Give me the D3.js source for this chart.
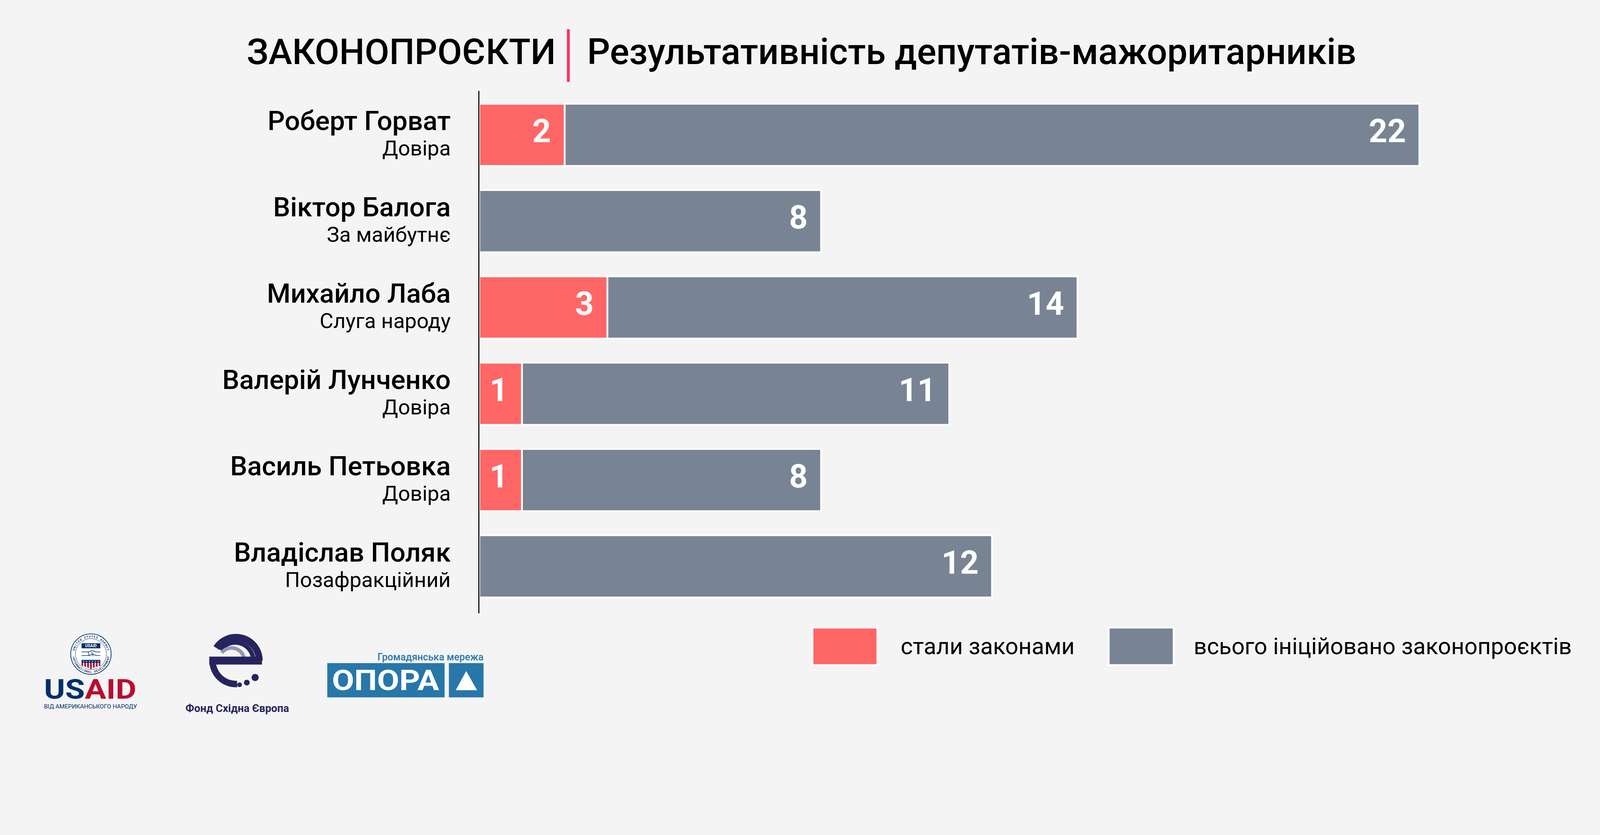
<!DOCTYPE html>
<html lang="uk">
<head>
  <meta charset="UTF-8">
  <title>Законопроєкти — результативність депутатів-мажоритарників</title>
  <script src="https://d3js.org/d3.v7.min.js"></script>
  <style>
    html, body { margin: 0; height: 100%; overflow: hidden; background: #f4f4f4; font-family: Roboto, "Noto Sans", sans-serif; }
    svg { display: block; width: 100vw; height: 100vh; }
  </style>
</head>
<body>
  <svg id="chart" viewBox="0 0 4434 2138" preserveAspectRatio="xMidYMin meet"></svg>

  <script>
    // data
    const names = ["Роберт Горват", "Віктор Балога", "Михайло Лаба", "Валерій Лунченко", "Василь Петьовка", "Владіслав Поляк"];
    const parties = ["Довіра", "За майбутнє", "Слуга народу", "Довіра", "Довіра", "Позафракційний"];
    const laws = [2, 0, 3, 1, 1, 0];        // стали законами
    const totals = [22, 8, 14, 11, 8, 12];   // всього ініційовано
    const legendLabels = ["стали законами", "всього ініційовано законопроєктів"];

    const RED = "#ff6666";
    const GREY = "#788493";

    const rows = names.map((n, i) => ({ name: n, party: parties[i], laws: laws[i], total: totals[i] }));

    const svg = d3.select("#chart");
    svg.append("rect").attr("width", 4434).attr("height", 2138).attr("fill", "#f4f4f4");

    // Title
    const title = svg.append("g").attr("class", "title");
    title.append("text")
      .attr("x", 684).attr("y", 178)
      .attr("font-size", 99).attr("font-weight", 500).attr("fill", "#000")
      .text("ЗАКОНОПРОЄКТИ");
    title.append("rect")
      .attr("x", 1571).attr("y", 81).attr("width", 8).attr("height", 146)
      .attr("fill", "#ff3068");
    title.append("text")
      .attr("x", 1627).attr("y", 178)
      .attr("font-size", 100).attr("font-weight", 500).attr("fill", "#000")
      .text("Результативність депутатів-мажоритарників");

    // Scales
    const x0 = 1328;
    const x = d3.scaleLinear().domain([0, 22]).range([x0, x0 + 2605.5]);
    const y = d3.scaleBand().domain(names).range([220.8, 1722.8]).padding(0.279);
    const bw = y.bandwidth();

    // Bars: full total first, the part that became law on top
    const bars = svg.append("g").attr("class", "bars");
    bars.selectAll("rect.total")
      .data(rows)
      .enter().append("rect")
      .attr("class", "total")
      .attr("x", x(0))
      .attr("y", d => y(d.name))
      .attr("width", d => x(d.total) - x(0))
      .attr("height", bw)
      .attr("fill", GREY)
      .attr("stroke", "#fff").attr("stroke-width", 5);

    bars.selectAll("rect.laws")
      .data(rows.filter(d => d.laws > 0))
      .enter().append("rect")
      .attr("class", "laws")
      .attr("x", x(0))
      .attr("y", d => y(d.name))
      .attr("width", d => x(d.laws) - x(0))
      .attr("height", bw)
      .attr("fill", RED)
      .attr("stroke", "#fff").attr("stroke-width", 5);

    // Value labels
    const vals = svg.append("g").attr("class", "values")
      .attr("font-size", 90).attr("font-weight", 700).attr("fill", "#fff").attr("text-anchor", "end");
    vals.selectAll("text.t")
      .data(rows)
      .enter().append("text")
      .attr("class", "t")
      .attr("x", d => x(d.total) - 37)
      .attr("y", d => y(d.name) + bw / 2 + 20)
      .text(d => d.total);
    vals.selectAll("text.l")
      .data(rows.filter(d => d.laws > 0))
      .enter().append("text")
      .attr("class", "l")
      .attr("x", d => x(d.laws) - 38)
      .attr("y", d => y(d.name) + bw / 2 + 20)
      .text(d => d.laws);

    // Category labels
    const labels = svg.append("g").attr("class", "labels").attr("text-anchor", "end").attr("fill", "#000");
    labels.selectAll("text.name")
      .data(rows)
      .enter().append("text")
      .attr("class", "name")
      .attr("x", 1249)
      .attr("y", d => y(d.name) + bw / 2 - 13.5)
      .attr("font-size", 75).attr("font-weight", 500)
      .text(d => d.name);
    labels.selectAll("text.party")
      .data(rows)
      .enter().append("text")
      .attr("class", "party")
      .attr("x", 1249)
      .attr("y", d => y(d.name) + bw / 2 + 57.5)
      .attr("font-size", 58.5).attr("font-weight", 400)
      .text(d => d.party);

    // Axis line
    svg.append("line")
      .attr("x1", 1327).attr("x2", 1327)
      .attr("y1", 252).attr("y2", 1700)
      .attr("stroke", "#000").attr("stroke-width", 3);

    // Legend
    const legend = svg.append("g").attr("class", "legend");
    const legendItems = [
      { label: legendLabels[0], color: RED, rx: 2251.5, tx: 2496 },
      { label: legendLabels[1], color: GREY, rx: 3072.5, tx: 3308 }
    ];
    legendItems.forEach(it => {
      legend.append("rect")
        .attr("x", it.rx).attr("y", 1739.5).attr("width", 180).attr("height", 104)
        .attr("fill", it.color).attr("stroke", "#fff").attr("stroke-width", 5);
      legend.append("text")
        .attr("x", it.tx).attr("y", 1813)
        .attr("font-size", 64).attr("fill", "#000")
        .text(it.label);
    });

    // ---- Logos ----
    const NAVY = "#002f6c", USRED = "#ba0c2f";

    // USAID seal
    const seal = svg.append("g").attr("transform", "translate(252,1813)");
    seal.append("circle").attr("r", 56).attr("fill", "#fff").attr("stroke", NAVY).attr("stroke-width", 2);
    seal.append("circle").attr("r", 43).attr("fill", "none").attr("stroke", NAVY).attr("stroke-width", 1);

    // ring lettering, one glyph at a time
    function ringText(str, r, span, bottom) {
      const chars = str.split("");
      const n = chars.length;
      chars.forEach((c, i) => {
        const a = (-span / 2 + i * span / (n - 1)) * Math.PI / 180;
        let px, py, rot;
        if (!bottom) { px = r * Math.sin(a); py = -r * Math.cos(a); rot = a; }
        else { px = -r * Math.sin(-a); py = r * Math.cos(a); rot = -a; }
        seal.append("text")
          .attr("transform", `translate(${px.toFixed(2)},${py.toFixed(2)}) rotate(${(rot * 180 / Math.PI).toFixed(1)})`)
          .attr("text-anchor", "middle").attr("font-size", 8).attr("font-weight", 700).attr("fill", NAVY)
          .text(c);
      });
    }
    ringText("UNITED STATES AGENCY", 46, 150, false);
    ringText("INTERNATIONAL DEVELOPMENT", 52, 160, true);

    seal.append("rect").attr("x", -26).attr("y", -30).attr("width", 52).attr("height", 14).attr("fill", NAVY);
    seal.append("text").attr("y", -19).attr("text-anchor", "middle").attr("font-size", 11)
      .attr("font-weight", 700).attr("fill", "#fff").text("USAID");
    // handshake (simplified)
    seal.append("path").attr("fill", "none").attr("stroke", NAVY).attr("stroke-width", 1.5)
      .attr("d", "M -26 -6 L -6 -6 L 4 -10 L 14 -6 L 26 -6 M -26 4 L -6 4 L 6 0 L 14 4 L 26 4 M -8 -6 L -4 6 M 2 -6 L 6 6");
    seal.append("rect").attr("x", -26).attr("y", 16).attr("width", 52).attr("height", 8).attr("fill", NAVY);
    seal.append("path").attr("fill", USRED)
      .attr("d", "M -26 24 L 26 24 L 26 32 L 6 38 L 0 42 L -6 38 L -26 32 Z");
    [-20, -12, -4, 4, 12, 20].forEach(sx => {
      seal.append("rect").attr("x", sx - 1.5).attr("y", 24).attr("width", 3).attr("height", 16).attr("fill", "#fff");
      seal.append("circle").attr("cx", sx).attr("cy", 20).attr("r", 1.4).attr("fill", "#fff");
    });

    svg.append("text").attr("x", 122).attr("y", 1937).attr("font-size", 76).attr("font-weight", 700)
      .attr("textLength", 256).attr("lengthAdjust", "spacingAndGlyphs")
      .call(t => {
        t.append("tspan").attr("fill", NAVY).text("US");
        t.append("tspan").attr("fill", USRED).text("AID");
      });
    svg.append("text").attr("x", 122).attr("y", 1964).attr("font-size", 15).attr("fill", NAVY)
      .attr("textLength", 258).attr("lengthAdjust", "spacingAndGlyphs")
      .text("ВІД АМЕРИКАНСЬКОГО НАРОДУ");

    // Фонд Східна Європа logo
    const FN = "#26245e";
    const fond = svg.append("g").attr("transform", "translate(654,1831)");
    const arc = d3.arc();
    fond.append("path").attr("fill", FN)
      .attr("d", arc({ innerRadius: 55, outerRadius: 74, startAngle: -1.0, endAngle: Math.PI / 2 }));
    fond.append("path").attr("fill", FN)
      .attr("d", arc({ innerRadius: 44, outerRadius: 56, startAngle: -0.95, endAngle: Math.PI / 2 }))
      .attr("transform", "translate(-2,0)");
    fond.append("path").attr("fill", "#9495b5")
      .attr("d", arc({ innerRadius: 30, outerRadius: 40, startAngle: -0.9, endAngle: Math.PI / 2 }))
      .attr("transform", "translate(-12,0)");
    fond.append("rect").attr("x", -74).attr("y", -11).attr("width", 146).attr("height", 22).attr("fill", FN);
    fond.append("path").attr("fill", FN)
      .attr("d", arc({ innerRadius: 56, outerRadius: 74, startAngle: -Math.PI / 2, endAngle: -Math.PI - 0.05 }));
    [[10, 67, 6.5], [30, 61, 8], [53, 47, 10]].forEach(([cx, cy, r]) => {
      fond.append("circle").attr("cx", cx).attr("cy", cy).attr("r", r).attr("fill", FN);
    });
    svg.append("text").attr("x", 514).attr("y", 1973).attr("font-size", 29).attr("font-weight", 700)
      .attr("fill", FN).attr("textLength", 287).attr("lengthAdjust", "spacingAndGlyphs")
      .text("Фонд Східна Європа");

    // ОПОРА logo
    const OP = "#2777a8";
    svg.append("text").attr("x", 1046).attr("y", 1830).attr("font-size", 27).attr("font-weight", 500)
      .attr("fill", OP).attr("textLength", 294).attr("lengthAdjust", "spacingAndGlyphs")
      .text("Громадянська мережа");
    svg.append("rect").attr("x", 907).attr("y", 1838).attr("width", 325).attr("height", 95).attr("fill", OP);
    svg.append("rect").attr("x", 1244).attr("y", 1838).attr("width", 96).attr("height", 95).attr("fill", OP);
    svg.append("text").attr("x", 920).attr("y", 1913).attr("font-size", 79).attr("font-weight", 700)
      .attr("fill", "#fff").attr("textLength", 297).attr("lengthAdjust", "spacingAndGlyphs")
      .text("ОПОРА");
    svg.append("path").attr("fill", "#fff")
      .attr("d", "M 1292 1860 L 1263 1913 L 1322 1913 Z");
  </script>
</body>
</html>
